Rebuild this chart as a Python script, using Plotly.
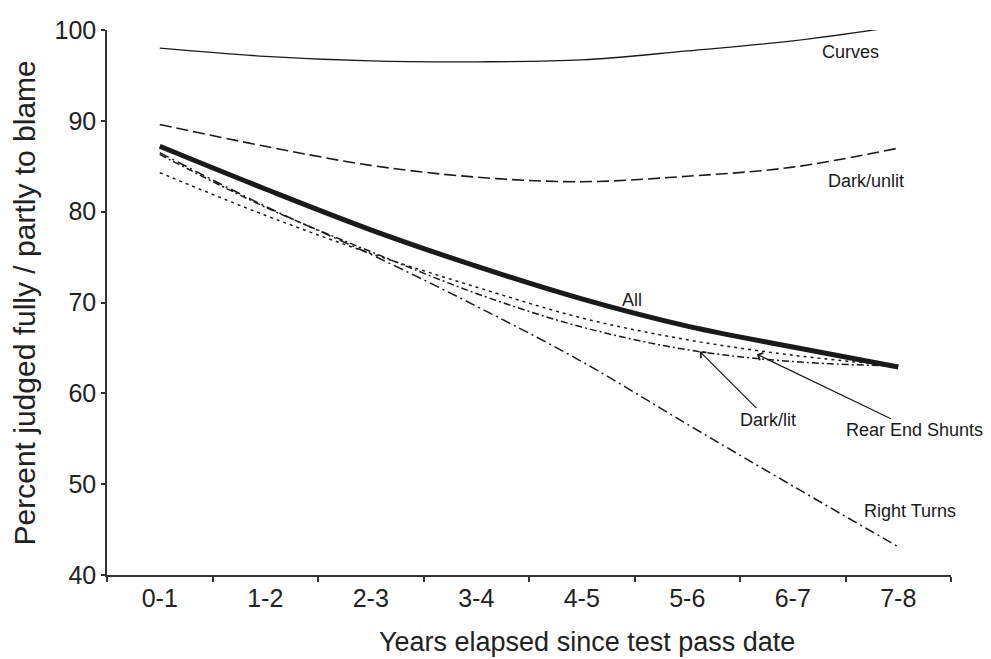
import plotly.graph_objects as go

# Years since passing the test (categories are centred at half-integers)
categories = ["0-1", "1-2", "2-3", "3-4", "4-5", "5-6", "6-7", "7-8"]
x_pos = [0.5, 1.5, 2.5, 3.5, 4.5, 5.5, 6.5, 7.5]

# Percent judged fully / partly to blame, by accident type
curves = [98.0, 97.1, 96.6, 96.5, 96.7, 97.7, 98.8, 100.4]
dark_unlit = [89.6, 87.2, 85.1, 83.8, 83.3, 83.9, 84.9, 87.0]
all_acc = [87.2, 82.5, 78.0, 74.0, 70.4, 67.4, 65.1, 62.9]
dark_lit = [86.3, 80.5, 75.6, 71.0, 67.3, 64.8, 63.5, 63.0]
rear_end = [84.3, 79.6, 75.4, 71.7, 68.3, 65.9, 64.2, 63.0]
right_turns = [86.5, 80.6, 75.3, 69.6, 63.5, 56.6, 49.8, 43.1]

FONT = "Liberation Sans, Arial, sans-serif"
INK = "#1a1a1a"
TEXT = "#222"

series = [
    ("Curves", curves, 1.3, "solid"),
    ("Dark/unlit", dark_unlit, 1.6, "12px,5px"),
    ("Right Turns", right_turns, 1.5, "10px,4px,2px,4px"),
    ("Rear End Shunts", rear_end, 1.5, "3px,4px"),
    ("Dark/lit", dark_lit, 1.5, "7px,3px,2px,3px"),
    ("All", all_acc, 5, "solid"),
]

fig = go.Figure()
for name, vals, width, dash in series:
    fig.add_trace(go.Scatter(
        x=x_pos, y=vals, name=name, mode="lines",
        line=dict(color=INK, width=width, dash=dash, shape="spline", smoothing=1.0),
        showlegend=False,
    ))

# Plain text labels beside the curves
labels = [
    ("Curves", 7.05, 97.6),
    ("Dark/unlit", 7.19, 83.4),
    ("All", 4.98, 70.3),
    ("Right Turns", 7.61, 47.0),
]
for text, lx, ly in labels:
    fig.add_annotation(x=lx, y=ly, text=text, showarrow=False,
                       font=dict(family=FONT, size=18, color=INK))

# Labels with pointer lines
fig.add_annotation(x=5.62, y=64.6, text="Dark/lit", showarrow=True,
                   ax=68, ay=68, arrowhead=4, arrowsize=1.3, arrowwidth=1.2,
                   arrowcolor=INK, font=dict(family=FONT, size=18, color=INK))
fig.add_annotation(x=6.16, y=64.3, text="Rear End Shunts", showarrow=True,
                   ax=158, ay=76, arrowhead=4, arrowsize=1.3, arrowwidth=1.2,
                   arrowcolor=INK, font=dict(family=FONT, size=18, color=INK))

# Axis titles
fig.add_annotation(xref="paper", yref="paper", x=0.5687, y=-0.0925,
                   xanchor="center", yanchor="top", showarrow=False,
                   text="Years elapsed since test pass date",
                   font=dict(family=FONT, size=27, color=TEXT))
fig.add_annotation(xref="paper", yref="paper", x=-0.0972, y=0.5,
                   xanchor="center", yanchor="middle", showarrow=False,
                   textangle=-90,
                   text="Percent judged fully / partly to blame",
                   font=dict(family=FONT, size=30, color=TEXT))

fig.update_layout(
    width=991, height=659,
    margin=dict(l=107, r=40, t=30, b=84),
    paper_bgcolor="white", plot_bgcolor="white",
    font=dict(family=FONT, color=TEXT),
    xaxis=dict(
        range=[0, 8], tickmode="array", tickvals=x_pos, ticktext=categories,
        ticks="", showgrid=False, zeroline=False,
        showline=True, linecolor="#333", linewidth=1.5,
        tickfont=dict(size=25, family=FONT, color=TEXT),
        minor=dict(tickmode="linear", tick0=0, dtick=1, ticks="outside",
                   ticklen=5, tickwidth=1.5, tickcolor="#333", showgrid=False),
    ),
    yaxis=dict(
        range=[40, 100], tickmode="linear", tick0=40, dtick=10,
        ticks="outside", ticklen=4, tickwidth=1.5, tickcolor="#333",
        showgrid=False, zeroline=False,
        showline=True, linecolor="#333", linewidth=1.5,
        tickfont=dict(size=25, family=FONT, color=TEXT),
    ),
)

fig.write_html("out.html")
